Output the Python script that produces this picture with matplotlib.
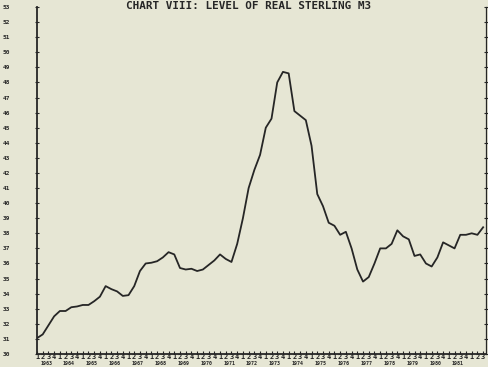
"""
Chart VIII: level of real sterling M3, quarterly 1963 Q1 onward.

Recreates a scanned line chart: one series on a 30-53 index scale,
quarter digits along the bottom with the year printed underneath.
"""

import matplotlib
matplotlib.use("Agg")
import matplotlib.pyplot as plt
import numpy as np

OUT_PATH = "out.png"
PAPER = "#e6e6d4"
INK = "#262626"

FIRST_YEAR = 1963
YEAR_LABELS = [str(y) for y in range(1963, 1982)]
QUARTER_LABELS = ["1", "2", "3", "4"]
Y_TICKS = list(range(30, 54))

# one value per quarter from 1963 Q1
REAL_M3 = [
    31.05, 31.3, 31.9, 32.5, 32.85, 32.85, 33.1, 33.15,
    33.25, 33.25, 33.5, 33.8, 34.5, 34.3, 34.15, 33.85,
    33.9, 34.5, 35.5, 36.0, 36.05, 36.15, 36.4, 36.75,
    36.6, 35.7, 35.6, 35.65, 35.5, 35.6, 35.9, 36.2,
    36.6, 36.3, 36.1, 37.3, 39.0, 41.0, 42.2, 43.2,
    45.0, 45.6, 48.0, 48.7, 48.6, 46.1, 45.8, 45.5,
    43.8, 40.6, 39.8, 38.7, 38.5, 37.9, 38.1, 37.0,
    35.6, 34.8, 35.1, 36.0, 37.0, 37.0, 37.3, 38.2,
    37.8, 37.6, 36.5, 36.6, 36.0, 35.8, 36.4, 37.4,
    37.2, 37.0, 37.9, 37.9, 38.0, 37.9, 38.4,
]


def plot_chart(path: str) -> None:
    fig = plt.figure(figsize=(4.88, 3.67), dpi=100, facecolor=PAPER)
    # axes box in pixels: x 37..486, y 7..354 from the top
    ax = fig.add_axes([37 / 488, 13 / 367, 449 / 488, 347 / 367])
    ax.set_facecolor(PAPER)

    idx = np.arange(len(REAL_M3))
    ax.plot(idx, REAL_M3, color=INK, linewidth=1.3, solid_joinstyle="round")

    ax.set_xlim(0, 78.5)
    ax.set_ylim(30, 53)

    ax.spines["top"].set_visible(False)
    for side in ("left", "bottom", "right"):
        ax.spines[side].set_color(INK)
    ax.spines["left"].set_linewidth(1.3)
    ax.spines["bottom"].set_linewidth(1.3)
    ax.spines["right"].set_linewidth(0.9)

    ax.set_yticks(Y_TICKS)
    ax.set_yticklabels([str(v) for v in Y_TICKS], fontsize=4.4,
                       fontweight="bold", family="DejaVu Sans Mono", color=INK)
    ax.tick_params(axis="y", direction="inout", length=2.5, width=0.8,
                   pad=18, colors=INK, right=True)

    n_q = 79
    ax.set_xticks(np.arange(n_q))
    ax.set_xticklabels([QUARTER_LABELS[i % 4] for i in range(n_q)],
                       fontsize=5, fontweight="bold",
                       family="DejaVu Sans Mono", color=INK)
    ax.tick_params(axis="x", direction="in", length=2.5, width=0.8,
                   pad=0.3, colors=INK)

    for k, label in enumerate(YEAR_LABELS):
        ax.text(4 * k + 1.6, -0.019, label, transform=ax.get_xaxis_transform(),
                ha="center", va="top", fontsize=3.6, fontweight="bold",
                family="DejaVu Sans Mono", color=INK, clip_on=False)

    fig.text(0.510, 0.997, "CHART VIII: LEVEL OF REAL STERLING M3",
             ha="center", va="top", fontsize=7.9, fontweight="bold",
             family="DejaVu Sans Mono", color=INK)

    fig.savefig(path, dpi=100, facecolor=PAPER)
    plt.close(fig)


def main() -> int:
    plot_chart(OUT_PATH)
    return 0


if __name__ == "__main__":
    raise SystemExit(main())
